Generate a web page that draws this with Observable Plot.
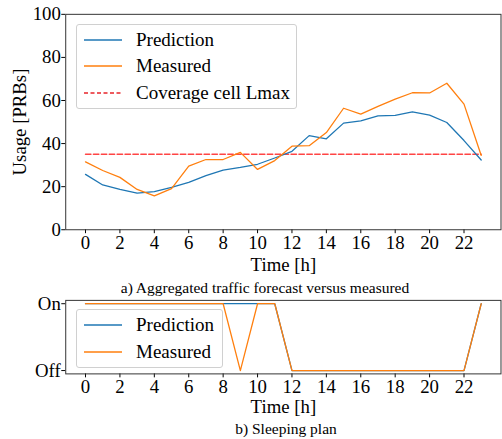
<!DOCTYPE html>
<html>
<head>
<meta charset="utf-8">
<script src="https://cdn.jsdelivr.net/npm/d3@7"></script>
<script src="https://cdn.jsdelivr.net/npm/@observablehq/plot@0.6"></script>
<style>
  html, body { margin: 0; padding: 0; background: #fff; overflow: hidden; }
  #wrap { position: relative; width: 502px; height: 439px; overflow: hidden; font-family: "Liberation Serif", "Times New Roman", Tinos, "Nimbus Roman", "Nimbus Roman No9 L", "Noto Serif", "DejaVu Serif", FreeSerif, Times, serif; color: #000; }
  .abs { position: absolute; }
  .cap { position: absolute; font-size: 15.5px; white-space: nowrap; transform: translate(-50%, -50%); }
  .legend { position: absolute; border: 1px solid #d0d0d0; border-radius: 3px; background: rgba(255,255,255,0.85); box-sizing: border-box; }
  .lrow { position: absolute; left: 0; height: 0; }
  .lrow svg { position: absolute; left: 6px; top: -3px; }
  .lrow span { position: absolute; left: 59px; top: -12px; font-size: 19px; line-height: 24px; white-space: nowrap; }
  #wrap svg text { font-family: inherit; }
</style>
</head>
<body>
<div id="wrap"></div>
<script>
// ---- data ----
const hours = [0,1,2,3,4,5,6,7,8,9,10,11,12,13,14,15,16,17,18,19,20,21,22,23];
const prediction = [25.7,20.8,18.7,17.0,17.7,19.7,22.0,25.1,27.7,28.9,30.4,33.3,36.4,43.7,42.2,49.5,50.5,52.9,53.1,54.7,53.2,49.8,41.4,32.4];
const measured   = [31.5,27.5,24.3,18.7,15.7,19.1,29.5,32.6,32.6,35.9,28.0,32.1,38.8,39.0,45.1,56.4,53.7,57.3,60.6,63.6,63.5,68.0,58.3,34.5];
const coverageLmax = 35;
const planPrediction = [1,1,1,1,1,1,1,1,1,1,1,1,0,0,0,0,0,0,0,0,0,0,0,1];
const planMeasured   = [1,1,1,1,1,1,1,1,1,0,1,1,0,0,0,0,0,0,0,0,0,0,0,1];
const xTicks = [0,2,4,6,8,10,12,14,16,18,20,22];
const yTicks = [0,20,40,60,80,100];
const planTicks = [0,1];
const planLabels = ["Off","On"];
const seriesNames = ["Prediction","Measured","Coverage cell Lmax"];
const colors = {pred: "#1f77b4", meas: "#ff7f0e", cov: "#ff3030"};

const xDomain = [hours[0] - 0.05 * (hours.at(-1) - hours[0]), hours.at(-1) + 0.05 * (hours.at(-1) - hours[0])];

const usage = hours.map((h, i) => ({h, pred: prediction[i], meas: measured[i], cov: coverageLmax}));
const plan = hours.map((h, i) => ({h, pred: planPrediction[i], meas: planMeasured[i]}));

const wrap = document.getElementById("wrap");
const serif = '"Liberation Serif", "Times New Roman", Tinos, "Nimbus Roman", "Nimbus Roman No9 L", "Noto Serif", "DejaVu Serif", FreeSerif, Times, serif';
const font = {fontFamily: serif, fontSize: "19px", background: "transparent", overflow: "visible"};

// ---- top chart ----
const topChart = Plot.plot({
  width: 508, height: 290,
  marginTop: 14, marginBottom: 58, marginLeft: 66, marginRight: 1.5,
  style: font,
  x: {domain: xDomain},
  y: {domain: [0, 100]},
  marks: [
    Plot.axisX({ticks: xTicks, tickSize: 4, tickPadding: 2, label: "Time [h]", labelAnchor: "center", labelOffset: 42, labelArrow: false}),
    Plot.axisY({ticks: yTicks, tickSize: 4, tickPadding: 1, label: "Usage [PRBs]", labelAnchor: "center", labelOffset: 54, labelArrow: false}),
    Plot.lineY(usage, {x: "h", y: "cov", stroke: colors.cov, strokeWidth: 1.5, strokeDasharray: "5.5,2.5", strokeOpacity: 0.9}),
    Plot.lineY(usage, {x: "h", y: "pred", stroke: colors.pred, strokeWidth: 1.3}),
    Plot.lineY(usage, {x: "h", y: "meas", stroke: colors.meas, strokeWidth: 1.3}),
    Plot.frame({stroke: "#333", strokeWidth: 1})
  ]
});
topChart.classList.add("abs");
topChart.style.left = "0px"; topChart.style.top = "0px";
wrap.appendChild(topChart);

// ---- bottom chart ----
const bottomChart = Plot.plot({
  width: 508, height: 130,
  marginTop: 10, marginBottom: 45.6, marginLeft: 66, marginRight: 1.5,
  style: font,
  x: {domain: xDomain},
  y: {domain: [-0.05, 1.05]},
  marks: [
    Plot.axisX({ticks: xTicks, tickSize: 4, tickPadding: 2, label: "Time [h]", labelAnchor: "center", labelOffset: 40, labelArrow: false}),
    Plot.axisY({ticks: planTicks, tickFormat: d => planLabels[d], tickSize: 4, tickPadding: 1, label: null}),
    Plot.lineY(plan, {x: "h", y: "pred", stroke: colors.pred, strokeWidth: 1.3}),
    Plot.lineY(plan, {x: "h", y: "meas", stroke: colors.meas, strokeWidth: 1.3}),
    Plot.frame({stroke: "#333", strokeWidth: 1})
  ]
});
bottomChart.classList.add("abs");
bottomChart.style.left = "0px"; bottomChart.style.top = "290px";
wrap.appendChild(bottomChart);

// ---- legends ----
function legend(left, topPx, w, h, entries, rowTops) {
  const box = document.createElement("div");
  box.className = "legend";
  Object.assign(box.style, {left: left + "px", top: topPx + "px", width: w + "px", height: h + "px"});
  entries.forEach((e, i) => {
    const row = document.createElement("div");
    row.className = "lrow";
    row.style.top = rowTops[i] + "px";
    row.innerHTML = `<svg width="40" height="6"><line x1="1" x2="39" y1="3" y2="3" stroke="${e.color}" stroke-width="1.5" ${e.dash ? `stroke-dasharray="${e.dash}"` : ""}/></svg><span>${e.name}</span>`;
    box.appendChild(row);
  });
  wrap.appendChild(box);
}
legend(76, 24, 221, 85, [
  {name: seriesNames[0], color: colors.pred},
  {name: seriesNames[1], color: colors.meas},
  {name: seriesNames[2], color: "#e8242a", dash: "4,2.5"}
], [15, 41, 68]);
legend(76, 309, 147, 59, [
  {name: seriesNames[0], color: colors.pred},
  {name: seriesNames[1], color: colors.meas}
], [15, 42]);

// ---- captions ----
function caption(text, cx, cy) {
  const d = document.createElement("div");
  d.className = "cap";
  d.textContent = text;
  d.style.left = cx + "px"; d.style.top = cy + "px";
  wrap.appendChild(d);
}
caption("a) Aggregated traffic forecast versus measured", 265, 288);
caption("b) Sleeping plan", 286, 429);
</script>
</body>
</html>
